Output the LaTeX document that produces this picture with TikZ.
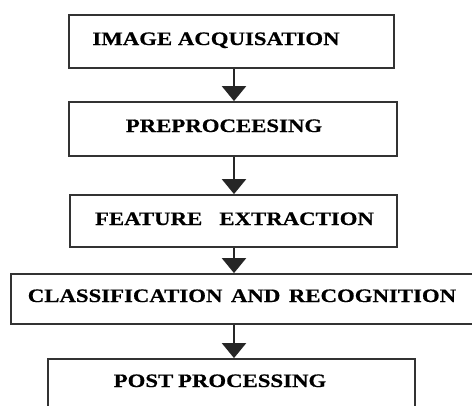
\documentclass[tikz,border=0pt]{standalone}
\usepackage{fontspec}
\setmainfont{Liberation Serif}[FakeStretch=1.2,BoldFeatures={FakeBold=0.6}]
\usetikzlibrary{arrows.meta}
\begin{document}
\begin{tikzpicture}[x=1pt,y=-1pt,
  stagebox/.style={draw=black!80,line width=1.8pt,rectangle,inner sep=0pt,fill=none},
  lbl/.style={anchor=base,inner sep=0pt,font=\fontsize{19}{22}\selectfont\bfseries},
  arr/.style={draw=black!85,line width=2.2pt,-{Triangle[width=24pt,length=15pt]}}]
\useasboundingbox (0,0) rectangle (472,405);
\clip (0,0) rectangle (472,405);
\node[stagebox,minimum width=325pt,minimum height=53pt] (b1) at (231.5,41.5) {};
\node[stagebox,minimum width=328pt,minimum height=54pt] (b2) at (233,129) {};
\node[stagebox,minimum width=327pt,minimum height=52pt] (b3) at (233.5,221) {};
\node[stagebox,minimum width=469pt,minimum height=50pt] (b4) at (245.5,299) {};
\node[stagebox,minimum width=367pt,minimum height=71pt] (b5) at (231.5,394.5) {};
\node[lbl] (t1) at (216,45) {IMAGE\hspace{0.3em}ACQUISATION};
\node[lbl] (t2) at (224,132) {PREPROCEESING};
\node[lbl] (t3) at (234.5,225) {FEATURE\hspace{0.9em}EXTRACTION};
\node[lbl] (t4) at (242,302) {CLASSIFICATION\hspace{0.45em}AND\hspace{0.45em}RECOGNITION};
\node[lbl] (t5) at (220,387) {POST\hspace{0.25em}PROCESSING};
\coordinate (ax) at (234,0);
\draw[arr] (b1.south -| ax) -- (b2.north -| ax);
\draw[arr] (b2.south -| ax) -- (b3.north -| ax);
\draw[arr] (b3.south -| ax) -- (b4.north -| ax);
\draw[arr] (b4.south -| ax) -- (b5.north -| ax);
\end{tikzpicture}
\end{document}
